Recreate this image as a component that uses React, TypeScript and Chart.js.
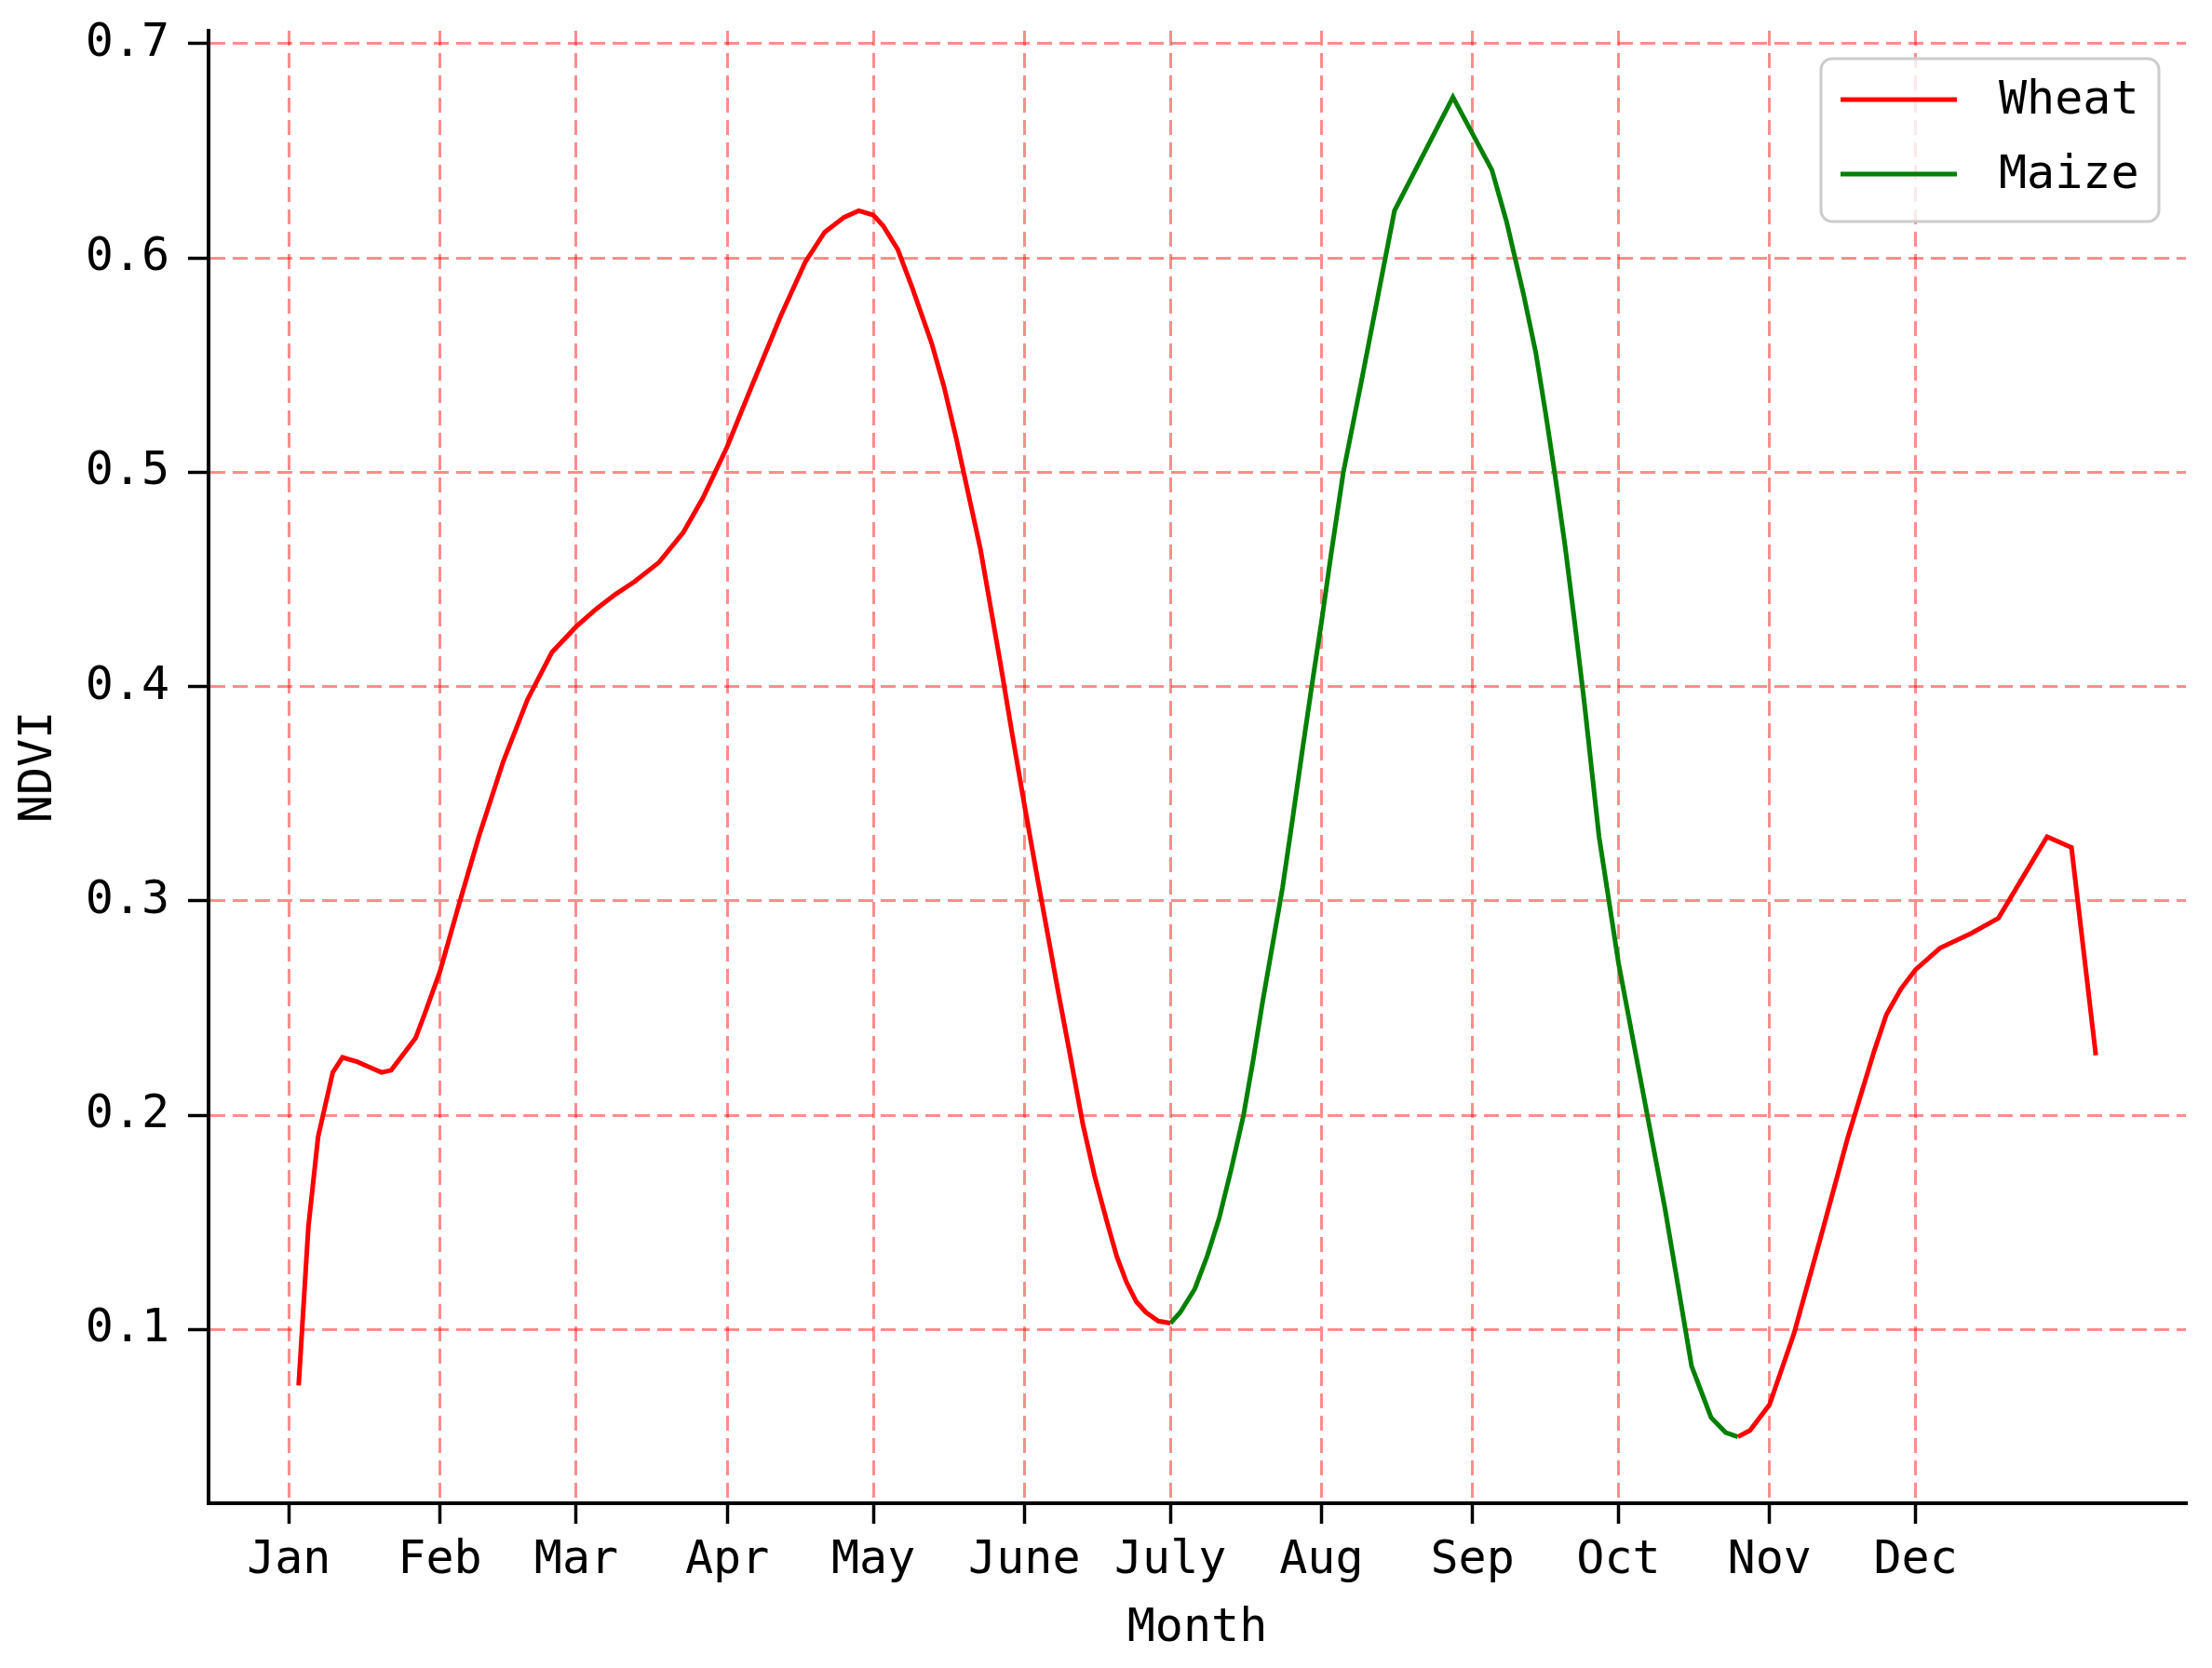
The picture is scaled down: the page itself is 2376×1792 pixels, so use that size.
import { useEffect, useRef } from 'react'
import { Chart, registerables } from 'chart.js'

Chart.register(...registerables)

// day of year for the first of each month, and their labels
const monthDays = [1, 32, 60, 91, 121, 152, 182, 213, 244, 274, 305, 335]
const monthLabels = ['Jan', 'Feb', 'Mar', 'Apr', 'May', 'June', 'July', 'Aug', 'Sep', 'Oct', 'Nov', 'Dec']
const yTicks = [0.1, 0.2, 0.3, 0.4, 0.5, 0.6, 0.7]

// wheat, first season (Jan - July)
const wheatDays1 = [3, 5, 7, 10, 12, 15, 17, 20, 22, 27, 29, 32, 36, 40, 45, 50, 55, 60, 64, 68, 72, 77, 82, 86, 91, 96, 102, 107, 111, 115, 118, 121, 123, 126, 129, 133, 135.5, 138, 140.5, 143, 145, 147, 149.5, 152, 154.5, 157, 159, 161, 164, 166.5, 169, 171, 173, 175, 177, 179.5, 182]
const wheatNdvi1 = [0.074, 0.148, 0.19, 0.22, 0.227, 0.225, 0.223, 0.22, 0.221, 0.236, 0.248, 0.267, 0.299, 0.33, 0.365, 0.394, 0.416, 0.428, 0.436, 0.443, 0.449, 0.458, 0.472, 0.488, 0.512, 0.54, 0.573, 0.598, 0.612, 0.619, 0.622, 0.62, 0.615, 0.604, 0.586, 0.56, 0.54, 0.516, 0.49, 0.464, 0.438, 0.412, 0.378, 0.345, 0.313, 0.282, 0.257, 0.233, 0.196, 0.171, 0.15, 0.134, 0.122, 0.113, 0.108, 0.104, 0.103]

// wheat, second season (Nov - Dec)
const wheatDays2 = [298.5, 301, 305, 310, 315.5, 321, 326.5, 329, 332, 335, 340, 346.5, 352, 357, 362, 367, 372]
const wheatNdvi2 = [0.05, 0.053, 0.065, 0.098, 0.143, 0.189, 0.23, 0.247, 0.259, 0.268, 0.278, 0.285, 0.292, 0.311, 0.33, 0.325, 0.228]

// maize (July - Nov)
const maizeDays = [182, 184, 187, 189.5, 192, 194.5, 197, 199, 201, 203, 205, 207, 209, 211, 213, 215, 217.5, 221, 228, 240, 248, 251, 254.5, 257, 259, 261, 263, 265, 267, 270, 274, 279, 283.5, 289, 291, 293, 296, 298.5]
const maizeNdvi = [0.103, 0.108, 0.119, 0.134, 0.152, 0.175, 0.2, 0.226, 0.254, 0.28, 0.306, 0.337, 0.369, 0.4, 0.43, 0.462, 0.5, 0.54, 0.622, 0.675, 0.641, 0.617, 0.583, 0.556, 0.528, 0.498, 0.466, 0.43, 0.392, 0.33, 0.271, 0.211, 0.157, 0.083, 0.071, 0.059, 0.052, 0.05]

const FONT = 'DejaVu Sans Mono'

const legendBox = {
  id: 'legendBox',
  afterDraw(chart: Chart) {
    const ctx = chart.ctx
    const x = 1956, y = 63, w = 363, h = 175, r = 12
    ctx.save()
    ctx.beginPath()
    ctx.roundRect(x, y, w, h, r)
    ctx.fillStyle = 'rgba(255,255,255,0.8)'
    ctx.fill()
    ctx.lineWidth = 3
    ctx.strokeStyle = '#cccccc'
    ctx.stroke()
    ctx.font = `50px "${FONT}"`
    ctx.textBaseline = 'middle'
    ctx.fillStyle = '#000'
    chart.data.datasets.forEach((ds: any, i: number) => {
      const ly = 107 + i * 80
      ctx.beginPath()
      ctx.moveTo(1977, ly)
      ctx.lineTo(2102, ly)
      ctx.lineWidth = 5
      ctx.strokeStyle = ds.borderColor
      ctx.stroke()
      ctx.fillText(ds.label, 2147, ly + 2)
    })
    ctx.restore()
  },
}

export default function App() {
  const canvasRef = useRef<HTMLCanvasElement>(null)
  const chartRef = useRef<Chart | null>(null)

  useEffect(() => {
    if (!canvasRef.current) return
    chartRef.current?.destroy()

    const wheatPoints = [
      ...wheatDays1.map((d, i) => ({ x: d, y: wheatNdvi1[i] as number | null })),
      { x: 240, y: null },
      ...wheatDays2.map((d, i) => ({ x: d, y: wheatNdvi2[i] as number | null })),
    ]
    const maizePoints = maizeDays.map((d, i) => ({ x: d, y: maizeNdvi[i] }))

    const tickFont = { family: FONT, size: 50 }
    const grid = {
      color: 'rgba(255,0,0,0.45)',
      lineWidth: 3,
      tickLength: 22,
      tickColor: '#000',
      tickWidth: 3.5,
      tickBorderDash: [],
    }
    const border = { display: true, color: '#000', width: 4, dash: [16, 8] }

    chartRef.current = new Chart(canvasRef.current, {
      type: 'line',
      data: {
        datasets: [
          {
            label: 'Wheat',
            data: wheatPoints,
            borderColor: '#ff0000',
            borderWidth: 5,
            pointRadius: 0,
            tension: 0,
            spanGaps: false,
          },
          {
            label: 'Maize',
            data: maizePoints,
            borderColor: '#008000',
            borderWidth: 5,
            pointRadius: 0,
            tension: 0,
          },
        ],
      },
      options: {
        animation: false,
        responsive: true,
        maintainAspectRatio: false,
        devicePixelRatio: 1,
        layout: { padding: { top: 33, right: 28, left: 0, bottom: 0 } },
        plugins: {
          legend: { display: false },
          tooltip: { enabled: false },
        },
        scales: {
          x: {
            type: 'linear',
            min: -15.5,
            max: 390.5,
            afterBuildTicks: (axis: any) => {
              axis.ticks = monthDays.map((v) => ({ value: v }))
            },
            afterFit: (scale: any) => {
              scale.height = 177
              scale.paddingLeft = 0
              scale.paddingRight = 0
            },
            ticks: {
              autoSkip: false,
              maxRotation: 0,
              minRotation: 0,
              includeBounds: false,
              padding: 10,
              color: '#000',
              font: tickFont,
              callback: (value: any) => monthLabels[monthDays.indexOf(Number(value))] ?? '',
            },
            grid,
            border,
            title: {
              display: true,
              text: 'Month',
              color: '#000',
              font: tickFont,
              padding: { top: 0, bottom: 12 },
            },
          },
          y: {
            type: 'linear',
            min: 0.019,
            max: 0.706,
            afterBuildTicks: (axis: any) => {
              axis.ticks = yTicks.map((v) => ({ value: v }))
            },
            afterFit: (scale: any) => {
              scale.width = 224
              scale.paddingTop = 0
              scale.paddingBottom = 0
            },
            ticks: {
              includeBounds: false,
              padding: 20,
              color: '#000',
              font: tickFont,
              callback: (value: any) => Number(value).toFixed(1),
            },
            grid,
            border,
            title: {
              display: true,
              text: 'NDVI',
              color: '#000',
              font: tickFont,
              padding: { top: 12, bottom: 0 },
            },
          },
        },
      },
      plugins: [legendBox],
    })

    return () => { chartRef.current?.destroy() }
  }, [])

  return (
    <div style={{ position: 'absolute', left: 0, top: 0, width: '2376px', height: '1792px', background: '#fff' }}>
      <canvas ref={canvasRef} />
    </div>
  )
}
